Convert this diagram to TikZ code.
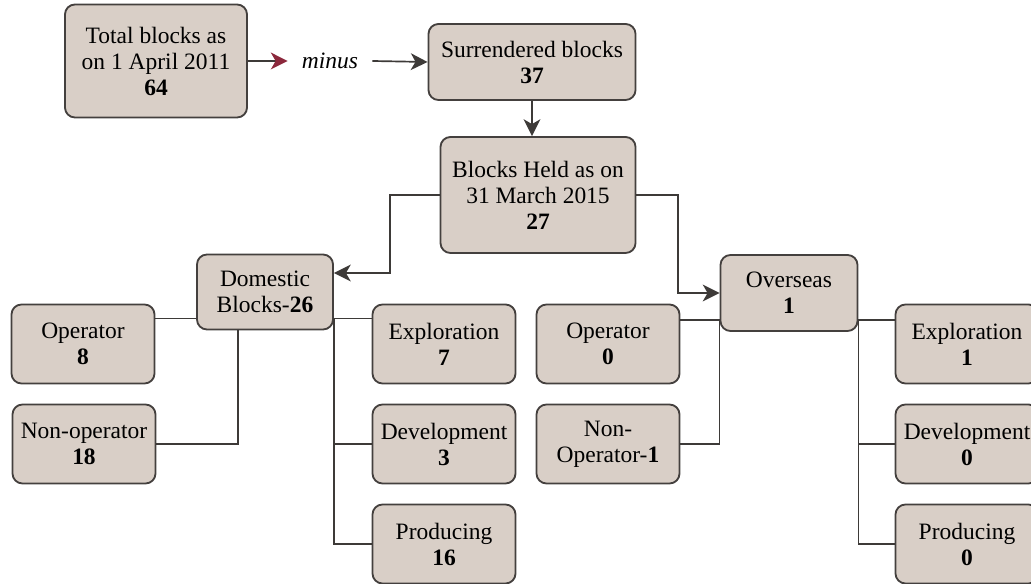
\documentclass[tikz,border=0pt]{standalone}
\usepackage{fontspec}
\setmainfont{Liberation Serif}
\usepackage{tikz}
\usetikzlibrary{arrows.meta, positioning}
\definecolor{boxfill}{RGB}{217,207,199}
\definecolor{boxline}{RGB}{68,64,62}
\colorlet{linkgray}{boxline!90!black}
\definecolor{tipred}{RGB}{140,40,60}

\begin{document}
\begin{tikzpicture}[x=0.025cm, y=0.025cm,
    box/.style={draw=boxline, fill=boxfill, line width=1.3pt, rounded corners=0.25cm,
                align=center, inner sep=0pt, font=\fontsize{16.7}{18.5}\selectfont},
    small/.style={box, minimum width=3.575cm, minimum height=1.975cm},
    link/.style={draw=linkgray, line width=1.2pt},
    tip/.style={-{Stealth[length=0.42cm, width=0.42cm, inset=0.12cm, #1]}},
    arr/.style={link, tip=linkgray}]
  \useasboundingbox (0,0) rectangle (1031,584);
  \clip (0,0) rectangle (1031,584);

  % top row
  \node[box, minimum width=4.55cm, minimum height=2.825cm] (total) at (156,523)
        {Total blocks as\\on 1 April 2011\\\textbf{64}};
  \node[font=\fontsize{16.7}{18.5}\selectfont\itshape, inner xsep=0.35cm] (minus) at (330,523) {minus};
  \node[box, minimum width=5.175cm, minimum height=1.9cm] (surr) at (532,522)
        {Surrendered blocks\\\textbf{37}};
  \node[box, minimum width=4.875cm, minimum height=2.9cm] (held) at (538,389)
        {Blocks Held as on\\31 March 2015\\\textbf{27}};

  \draw[link, tip=tipred] (total.east) -- (minus.west);
  \draw[arr] (minus.east) -- (surr.west);
  \draw[arr] (surr.south) -- (surr.south |- held.north);

  % domestic side
  \node[box, minimum width=3.4cm, minimum height=1.875cm] (dom) at (265,292)
        {Domestic\\Blocks-\textbf{26}};
  \node[small] (dop) at (83,240) {Operator\\\textbf{8}};
  \node[small] (dnop) at (84,140) {Non-operator\\\textbf{18}};
  \foreach \nm/\lbl/\val [count=\i] in {dexp/Exploration/7, ddev/Development/3, dprod/Producing/16}
    \node[small] (\nm) at (444,340-100*\i) {\lbl\\\textbf{\val}};

  % overseas side
  \node[box, minimum width=3.425cm, minimum height=1.9cm] (ovs) at (789,291)
        {Overseas\\\textbf{1}};
  \node[small] (oop) at (608,240) {Operator\\\textbf{0}};
  \node[small] (onop) at (608,140) {Non-\\Operator-\textbf{1}};
  \foreach \nm/\lbl/\val [count=\i] in {oexp/Exploration/1, odev/Development/0, oprod/Producing/0}
    \node[small] (\nm) at (967,340-100*\i) {\lbl\\\textbf{\val}};

  % split of held blocks
  \coordinate (dturn) at (390,311);
  \coordinate (oturn) at (678,291);
  \draw[arr] (held.west) -| (dturn) -- (dturn -| dom.east);
  \draw[arr] (held.east) -| (oturn) -- (ovs.west);

  % domestic links
  \coordinate (dl) at ([yshift=0.3cm]dom.south west);
  \coordinate (dr) at ([yshift=0.3cm]dom.south east);
  \draw[link] (dl) -- (dl -| dop.east);
  \draw[link] ([xshift=-0.675cm]dom.south) |- (dnop.east);
  \draw[link] (dr) -- (dr -| dexp.west);
  \draw[link] (dr) |- (ddev.west);
  \draw[link] (dr) |- (dprod.west);

  % overseas links
  \coordinate (ol) at ([yshift=0.3cm]ovs.south west);
  \coordinate (or) at ([yshift=0.3cm]ovs.south east);
  \draw[link] (ol) -- (ol -| oop.east);
  \draw[link] (ol) |- (onop.east);
  \draw[link] (or) -- (or -| oexp.west);
  \draw[link] (or) |- (odev.west);
  \draw[link] (or) |- (oprod.west);
\end{tikzpicture}
\end{document}
